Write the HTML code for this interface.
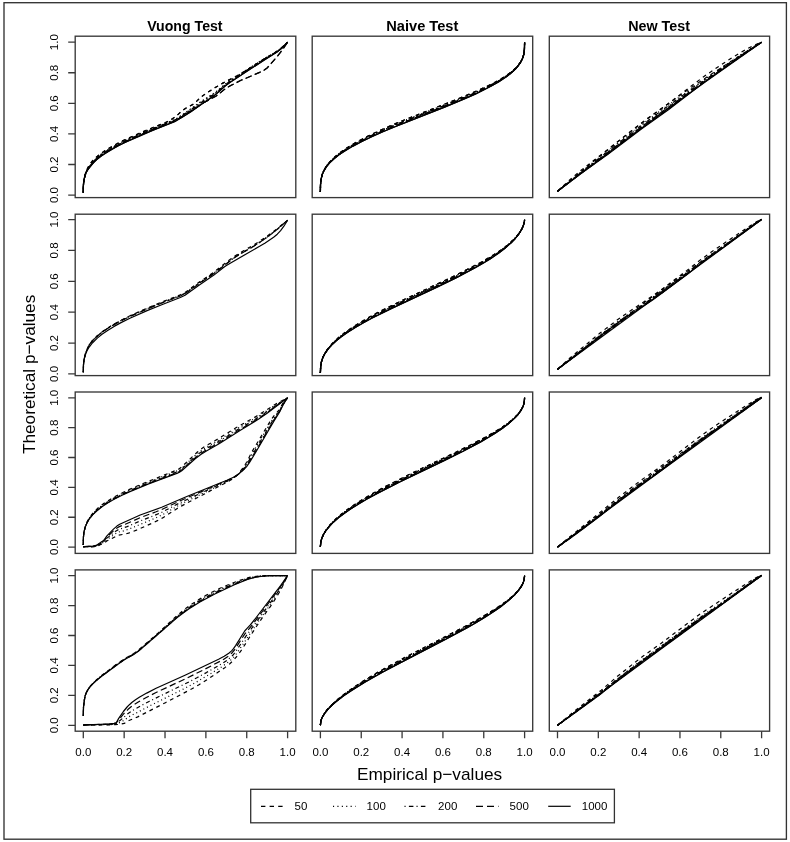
<!DOCTYPE html>
<html><head><meta charset="utf-8"><style>
html,body{margin:0;padding:0;background:#fff;}
svg{display:block;}
text{font-family:"Liberation Sans",sans-serif;fill:#000;}
svg{will-change:transform;}
</style></head><body>
<svg width="790" height="842" viewBox="0 0 790 842">
<rect x="0" y="0" width="790" height="842" fill="#fff"/>
<rect x="4.0" y="2.7" width="782.4" height="836.5" fill="none" stroke="#333" stroke-width="1.35"/>
<g fill="none" stroke="#383838" stroke-width="1.35">
<rect x="75.20" y="36.20" width="220.60" height="161.40"/>
<rect x="312.20" y="36.20" width="220.50" height="161.40"/>
<rect x="549.30" y="36.20" width="220.30" height="161.40"/>
<rect x="75.20" y="214.20" width="220.60" height="161.40"/>
<rect x="312.20" y="214.20" width="220.50" height="161.40"/>
<rect x="549.30" y="214.20" width="220.30" height="161.40"/>
<rect x="75.20" y="392.00" width="220.60" height="161.40"/>
<rect x="312.20" y="392.00" width="220.50" height="161.40"/>
<rect x="549.30" y="392.00" width="220.30" height="161.40"/>
<rect x="75.20" y="569.90" width="220.60" height="161.30"/>
<rect x="312.20" y="569.90" width="220.50" height="161.30"/>
<rect x="549.30" y="569.90" width="220.30" height="161.30"/>
</g>
<g fill="none" stroke="#383838" stroke-width="1.3">
<path d="M68.2,195.05 H75.2 M68.2,164.48 H75.2 M68.2,133.91 H75.2 M68.2,103.34 H75.2 M68.2,72.77 H75.2 M68.2,42.20 H75.2 M68.2,373.90 H75.2 M68.2,343.04 H75.2 M68.2,312.18 H75.2 M68.2,281.32 H75.2 M68.2,250.46 H75.2 M68.2,219.60 H75.2 M68.2,547.10 H75.2 M68.2,517.24 H75.2 M68.2,487.38 H75.2 M68.2,457.52 H75.2 M68.2,427.66 H75.2 M68.2,397.80 H75.2 M68.2,725.30 H75.2 M68.2,695.36 H75.2 M68.2,665.42 H75.2 M68.2,635.48 H75.2 M68.2,605.54 H75.2 M68.2,575.60 H75.2"/>
<path d="M83.30,731.2 V738.3 M124.16,731.2 V738.3 M165.02,731.2 V738.3 M205.88,731.2 V738.3 M246.74,731.2 V738.3 M287.60,731.2 V738.3 M320.40,731.2 V738.3 M361.24,731.2 V738.3 M402.08,731.2 V738.3 M442.92,731.2 V738.3 M483.76,731.2 V738.3 M524.60,731.2 V738.3 M557.50,731.2 V738.3 M598.32,731.2 V738.3 M639.14,731.2 V738.3 M679.96,731.2 V738.3 M720.78,731.2 V738.3 M761.60,731.2 V738.3"/>
</g>
<g fill="none" stroke="#000" stroke-width="1.2" stroke-linejoin="round">
<path d="M83.3,192.3L83.4,184.9L84.0,179.3L85.5,173.4L87.5,168.3L89.8,164.0L92.1,161.3L96.3,157.2L101.0,153.5L106.6,149.7L112.1,146.3L118.7,142.8L126.2,139.1L143.0,131.6L169.1,121.1L170.1,120.6L174.7,117.2L178.5,114.1L181.7,111.1L183.1,110.0L186.9,107.6L194.3,103.6L200.8,97.2L206.4,93.1L214.8,87.8L222.3,83.4L237.2,75.7L241.9,73.1L266.1,57.8L274.5,52.9L277.3,51.1L280.6,48.6L287.6,42.2" stroke-dasharray="3.8 3.9"/>
<path d="M83.3,192.3L83.4,185.5L83.9,180.3L85.2,175.0L86.9,170.7L89.0,167.0L92.6,162.2L97.3,157.5L102.0,153.7L106.7,150.5L113.2,146.7L119.7,143.2L128.1,139.0L144.9,131.6L174.7,119.7L176.5,118.8L184.1,113.6L200.8,101.7L214.8,92.8L217.6,90.6L225.1,84.2L229.8,80.8L264.3,58.6L274.5,52.8L278.3,50.5L282.9,46.7L287.6,42.2" stroke-dasharray="1 3"/>
<path d="M83.3,192.3L83.4,185.5L83.9,180.3L85.2,175.1L86.9,170.9L89.0,167.3L92.6,162.7L97.3,158.1L102.0,154.3L106.7,151.1L113.2,147.3L119.7,143.8L128.1,139.7L144.9,132.3L174.7,120.3L176.6,119.3L188.7,111.4L201.8,102.2L213.9,94.4L217.5,91.6L225.1,84.9L230.7,80.9L264.3,59.1L277.3,51.4L282.0,47.7L287.6,42.2" stroke-dasharray="1 3 4.1 2.8"/>
<path d="M83.3,192.3L83.4,185.5L83.9,180.3L85.2,175.1L86.9,170.8L89.0,167.1L92.1,163.3L96.3,159.2L101.0,155.4L106.6,151.6L113.2,147.8L119.7,144.3L128.1,140.2L146.7,132.0L175.7,120.5L203.6,102.8L215.8,96.2L218.6,94.2L224.2,89.6L230.7,85.5L241.0,80.3L259.6,72.4L264.3,70.0L267.1,68.0L277.3,56.4L282.3,50.0L287.6,42.2" stroke-dasharray="6.4 3.5"/>
<path d="M83.3,192.3L83.4,185.5L83.9,180.4L84.9,176.3L86.4,172.3L88.9,168.0L92.1,164.1L96.3,160.0L101.0,156.2L106.6,152.4L112.2,149.1L118.7,145.5L127.1,141.4L143.0,134.3L157.0,128.6L174.7,121.7L177.5,120.1L190.6,111.9L201.8,104.0L213.0,96.5L216.7,93.6L225.1,86.0L229.8,82.6L264.3,59.9L277.0,52.1L282.0,48.0L287.6,42.2"/>
<path d="M320.4,192.0L320.5,184.5L321.0,179.3L322.3,174.2L324.1,169.9L326.9,165.4L330.7,160.9L335.3,156.5L341.3,151.7L349.2,146.4L357.7,141.4L368.0,136.1L379.1,130.8L391.3,125.4L404.3,120.0L453.7,100.6L471.5,93.3L488.2,85.7L494.8,82.4L501.3,78.7L507.8,74.5L513.4,70.1L517.6,66.0L520.7,61.8L522.7,57.8L523.9,53.7L524.5,49.3L524.6,42.4" stroke-dasharray="3.8 3.9"/>
<path d="M320.4,192.0L320.5,184.5L321.0,179.3L322.3,174.3L324.0,170.2L326.9,165.6L330.7,161.2L335.3,156.8L340.9,152.4L348.4,147.4L356.8,142.5L366.5,137.4L377.3,132.3L389.4,126.9L402.5,121.5L450.9,102.4L469.6,94.7L478.9,90.6L487.3,86.6L494.5,82.9L500.4,79.6L507.1,75.3L512.5,71.2L516.5,67.4L520.1,62.9L522.2,59.1L523.2,56.6L523.8,54.4L524.4,49.8L524.6,42.4" stroke-dasharray="1 3"/>
<path d="M320.4,192.0L320.5,184.5L321.0,179.4L322.3,174.3L324.0,170.3L326.9,165.7L330.4,161.6L335.1,157.2L340.0,153.3L346.5,148.9L354.9,143.9L364.2,139.0L375.4,133.7L386.6,128.7L399.7,123.2L449.6,103.5L468.4,95.7L478.0,91.5L486.4,87.5L493.8,83.6L500.1,80.1L506.9,75.7L512.5,71.3L516.5,67.5L520.1,63.0L522.2,59.1L523.2,56.6L523.8,54.4L524.4,49.8L524.6,42.4" stroke-dasharray="1 3 4.1 2.8"/>
<path d="M320.4,192.0L320.5,185.1L320.9,180.1L322.0,175.3L323.5,171.5L326.0,167.2L329.2,163.2L333.5,158.9L339.1,154.4L345.6,149.9L354.0,144.9L363.3,140.0L373.5,135.1L384.7,130.2L397.8,124.7L447.2,105.1L466.8,97.0L476.8,92.6L485.4,88.4L492.9,84.6L499.4,80.8L506.9,76.0L512.5,71.6L516.5,67.7L520.1,63.1L522.2,59.2L523.2,56.7L523.8,54.4L524.4,49.8L524.6,42.4" stroke-dasharray="6.4 3.5"/>
<path d="M320.4,192.0L320.5,185.1L320.9,180.1L322.0,175.4L323.5,171.6L326.0,167.4L329.2,163.4L333.5,159.2L339.0,154.8L345.6,150.4L353.0,146.1L361.4,141.7L371.7,136.8L382.9,131.8L395.0,126.8L444.6,107.1L464.9,98.6L475.2,94.1L483.6,90.0L491.3,86.0L498.5,81.9L506.0,77.0L511.5,72.7L516.2,68.2L518.1,66.0L519.9,63.4L522.2,59.3L523.2,56.7L523.8,54.5L524.4,49.8L524.6,42.4"/>
<path d="M320.4,373.0L320.6,366.8L321.5,361.6L323.0,357.0L325.3,352.4L328.8,347.5L333.4,342.4L338.1,338.0L344.6,332.8L351.2,328.2L359.6,322.8L368.9,317.4L379.1,311.8L401.5,300.7L446.3,279.8L463.9,271.2L480.7,262.5L493.8,254.8L501.3,249.8L507.1,245.4L512.5,240.7L516.5,236.6L519.9,232.1L522.2,228.2L523.9,223.7L524.4,221.6L524.6,219.6" stroke-dasharray="3.8 3.9"/>
<path d="M320.4,373.0L320.6,366.8L321.3,362.3L322.6,358.1L325.1,353.0L328.0,348.6L332.5,343.5L337.2,339.1L343.7,333.8L350.2,329.2L358.6,323.9L367.0,319.0L377.3,313.5L399.7,302.3L444.4,281.3L462.1,272.7L478.9,264.0L486.4,259.7L492.9,255.7L500.4,250.8L506.9,245.8L511.5,241.8L516.2,237.0L519.9,232.2L522.2,228.2L523.9,223.7L524.4,221.6L524.6,219.6" stroke-dasharray="1 3"/>
<path d="M320.4,373.0L320.6,366.8L321.3,362.3L322.6,358.1L325.1,353.1L328.0,348.8L331.8,344.4L337.0,339.5L342.8,334.8L349.3,330.2L356.8,325.4L365.2,320.5L375.4,315.0L396.9,304.2L442.5,282.8L460.3,274.2L478.0,264.9L492.0,256.7L499.4,251.7L506.0,246.8L511.5,242.0L516.2,237.1L519.9,232.2L522.2,228.2L523.9,223.7L524.4,221.6L524.6,219.6" stroke-dasharray="1 3 4.1 2.8"/>
<path d="M320.4,373.0L320.6,367.4L321.3,362.4L322.6,358.2L324.6,353.9L327.9,349.1L331.6,344.8L336.3,340.4L341.8,335.9L348.4,331.3L355.5,326.7L364.2,321.6L373.5,316.6L395.0,305.8L439.7,284.8L458.4,275.8L476.1,266.5L483.6,262.2L491.0,257.7L498.5,252.7L505.0,247.8L510.6,243.0L515.3,238.3L519.0,233.7L521.8,229.1L522.9,226.7L523.8,224.2L524.4,221.9L524.6,219.6" stroke-dasharray="6.4 3.5"/>
<path d="M320.4,373.0L320.6,367.4L321.3,362.5L322.6,358.2L324.6,354.1L327.9,349.3L331.6,345.1L336.3,340.8L341.3,336.7L347.4,332.4L354.9,327.7L362.6,323.2L371.7,318.3L392.2,308.1L437.0,287.1L456.5,277.6L475.2,267.7L482.6,263.5L490.1,258.9L498.5,253.2L505.0,248.2L510.6,243.3L515.3,238.5L519.0,233.8L521.8,229.2L523.8,224.3L524.4,221.9L524.6,219.6"/>
<path d="M320.4,546.8L320.8,541.9L322.0,537.7L324.0,533.3L326.9,528.8L330.7,524.2L335.3,519.5L340.9,514.6L347.4,509.6L355.5,504.0L364.2,498.5L374.5,492.5L385.7,486.4L409.9,474.1L454.7,452.8L470.5,445.0L486.4,436.7L498.5,429.6L505.0,425.3L510.6,421.1L515.3,416.9L518.5,413.5L521.3,409.6L523.2,405.9L524.3,401.9L524.6,397.8" stroke-dasharray="3.8 3.9"/>
<path d="M320.4,546.8L320.7,542.4L321.7,538.5L323.5,534.3L326.1,530.0L329.7,525.4L334.4,520.6L340.0,515.7L346.5,510.6L354.0,505.4L362.6,500.0L372.6,494.1L383.8,488.0L408.0,475.7L452.8,454.3L468.7,446.5L484.5,438.2L497.6,430.6L504.1,426.2L509.7,422.0L514.3,418.0L518.5,413.6L521.3,409.7L523.2,405.9L524.3,401.9L524.6,397.8" stroke-dasharray="1 3"/>
<path d="M320.4,546.8L320.7,542.4L321.7,538.5L323.5,534.4L326.1,530.1L329.7,525.6L334.4,520.8L340.0,515.9L345.6,511.6L353.0,506.4L361.4,501.1L370.8,495.6L381.9,489.5L405.3,477.7L450.9,455.8L467.7,447.5L484.5,438.6L497.4,431.0L504.1,426.5L509.7,422.2L514.3,418.1L518.5,413.7L521.3,409.7L523.2,406.0L524.3,402.0L524.6,397.8" stroke-dasharray="1 3 4.1 2.8"/>
<path d="M320.4,546.8L320.7,542.4L321.7,538.5L323.5,534.4L326.0,530.4L329.2,526.4L333.5,521.9L339.0,517.0L344.6,512.6L352.1,507.5L360.5,502.2L369.8,496.7L380.1,491.1L403.2,479.4L448.1,457.8L465.9,449.0L482.6,440.1L490.1,435.8L496.6,431.8L503.2,427.4L509.1,422.9L514.0,418.6L518.1,414.3L521.3,409.8L523.2,406.0L524.3,402.0L524.6,397.8" stroke-dasharray="6.4 3.5"/>
<path d="M320.4,546.8L320.7,542.4L321.7,538.5L323.5,534.5L326.0,530.5L329.2,526.6L333.4,522.2L338.1,518.1L343.8,513.7L350.2,509.2L358.6,503.9L367.0,499.0L377.3,493.4L399.7,482.0L444.6,460.4L463.1,451.3L480.7,441.9L494.8,433.5L502.2,428.5L507.8,424.3L513.4,419.4L517.6,415.1L520.7,410.8L522.9,406.7L523.7,404.6L524.2,402.4L524.6,397.8"/>
<path d="M320.4,725.1L320.8,721.4L322.0,717.9L324.0,714.1L326.9,710.0L330.7,705.9L335.1,701.6L340.0,697.4L346.5,692.4L354.0,687.1L363.3,681.1L372.6,675.4L383.8,668.9L407.1,656.3L451.9,633.3L468.4,624.6L484.5,615.6L496.6,608.1L503.2,603.6L509.1,599.1L514.0,594.9L518.1,590.6L521.3,586.3L523.2,582.7L524.2,579.4L524.6,575.6" stroke-dasharray="3.8 3.9"/>
<path d="M320.4,725.1L320.7,721.7L321.7,718.5L323.5,715.0L326.1,711.2L329.7,707.0L334.4,702.4L340.0,697.7L345.6,693.4L353.0,688.2L361.4,682.7L370.8,677.0L381.9,670.6L405.3,658.0L449.1,635.4L465.9,626.5L482.6,617.1L495.7,609.1L502.6,604.3L508.7,599.6L513.4,595.5L517.6,591.3L520.7,587.2L522.9,583.4L524.2,579.4L524.6,575.6" stroke-dasharray="1 3"/>
<path d="M320.4,725.1L320.7,721.7L321.7,718.5L323.5,715.0L326.1,711.2L329.2,707.7L333.5,703.4L339.0,698.7L344.6,694.4L351.2,689.8L359.6,684.3L368.9,678.6L379.1,672.7L402.5,660.1L447.2,636.9L464.0,628.0L480.8,618.6L494.8,610.0L502.2,604.8L507.8,600.6L513.4,595.7L517.6,591.4L520.7,587.3L522.9,583.4L524.2,579.4L524.6,575.6" stroke-dasharray="1 3 4.1 2.8"/>
<path d="M320.4,725.1L320.8,721.4L321.3,719.5L322.3,717.3L324.6,713.3L328.0,709.1L332.5,704.5L338.1,699.7L344.6,694.7L352.3,689.4L367.0,680.2L385.7,669.7L404.3,659.8L449.6,636.3L470.5,625.0L479.8,619.7L488.2,614.6L495.7,609.7L502.2,605.1L507.8,600.8L512.5,596.7L516.2,593.0L519.3,589.3L521.8,585.6L523.4,582.2L524.3,579.1L524.6,575.6" stroke-dasharray="6.4 3.5"/>
<path d="M320.4,725.1L320.8,721.4L321.3,719.6L322.3,717.3L324.6,713.4L327.9,709.4L331.8,705.4L337.2,700.7L343.7,695.8L351.2,690.7L365.2,682.0L382.9,672.0L400.6,662.6L445.3,639.5L466.8,627.9L476.8,622.2L485.4,616.9L493.8,611.5L500.4,606.9L506.0,602.6L511.5,597.8L515.3,594.2L519.0,589.8L521.8,585.7L523.4,582.2L524.3,579.1L524.6,575.6"/>
<path d="M557.5,191.2L570.5,179.3L580.8,170.5L607.6,149.7L634.9,128.0L646.0,119.5L669.3,102.9L702.9,77.2L718.7,66.4L731.8,57.9L739.7,53.1L746.1,49.4L752.3,46.1L761.6,42.2" stroke-dasharray="3.8 3.9"/>
<path d="M557.5,191.2L571.5,179.8L581.7,171.8L606.9,153.2L641.4,126.5L670.3,105.9L703.8,80.2L723.4,66.4L740.2,55.0L752.3,47.4L761.6,42.2" stroke-dasharray="1 3"/>
<path d="M557.5,191.2L580.8,172.9L606.9,153.9L641.4,127.4L669.3,107.5L695.4,87.4L704.8,80.4L725.0,66.0L740.2,55.6L751.3,48.3L761.6,42.2" stroke-dasharray="1 3 4.1 2.8"/>
<path d="M557.5,191.2L580.8,173.4L607.8,154.0L640.4,129.0L669.3,108.4L695.4,88.3L705.4,80.8L741.1,55.5L751.3,48.7L761.6,42.2" stroke-dasharray="6.4 3.5"/>
<path d="M557.5,191.2L581.7,173.1L607.6,154.6L641.4,128.9L668.4,109.7L696.3,88.2L706.6,80.5L741.1,55.9L761.6,42.2"/>
<path d="M557.5,369.3L569.6,358.3L578.0,351.2L599.4,333.6L617.1,320.1L626.5,313.5L652.6,295.9L663.7,287.9L687.0,270.4L700.1,260.1L711.3,252.0L749.5,226.2L756.3,221.9L761.6,219.3" stroke-dasharray="3.8 3.9"/>
<path d="M557.5,369.3L573.3,356.3L597.6,336.9L616.2,322.8L625.4,316.4L655.4,296.3L670.3,285.5L687.0,272.8L699.2,263.2L708.5,256.3L724.3,245.3L752.3,225.2L757.1,222.0L761.6,219.3" stroke-dasharray="1 3"/>
<path d="M557.5,369.3L598.5,336.6L615.3,324.0L623.7,318.1L651.6,299.5L660.0,293.6L669.3,286.8L686.7,273.7L698.2,264.5L706.6,258.3L724.3,245.8L753.5,224.6L757.7,221.7L761.6,219.3" stroke-dasharray="1 3 4.1 2.8"/>
<path d="M557.5,369.3L599.4,336.4L615.3,324.5L625.4,317.4L652.6,299.5L661.9,292.9L686.7,274.3L698.2,265.1L704.8,260.2L725.0,245.8L756.0,223.0L761.6,219.3" stroke-dasharray="6.4 3.5"/>
<path d="M557.5,369.3L580.8,351.3L599.7,336.5L615.3,324.8L625.4,317.8L652.6,299.9L662.8,292.6L686.7,274.7L703.8,261.3L712.2,255.2L725.0,246.2L756.3,222.8L761.6,219.3"/>
<path d="M557.5,547.1L573.3,534.0L619.0,497.0L640.3,480.8L657.2,468.9L664.7,463.4L700.1,436.4L708.5,430.4L721.5,421.6L746.7,405.3L756.0,399.6L761.6,397.2" stroke-dasharray="3.8 3.9"/>
<path d="M557.5,547.1L583.5,527.5L600.4,514.3L615.3,502.2L627.4,493.0L641.4,482.5L655.8,472.6L662.8,467.5L700.1,439.1L710.3,431.8L753.2,402.1L757.1,399.6L761.6,397.2" stroke-dasharray="1 3"/>
<path d="M557.5,547.1L569.6,538.3L583.5,528.0L600.4,514.8L616.2,502.1L628.3,492.9L641.4,483.2L661.9,468.9L700.1,439.7L755.1,401.1L761.6,397.2" stroke-dasharray="1 3 4.1 2.8"/>
<path d="M557.5,547.1L568.9,539.1L580.8,530.4L599.4,516.0L614.3,504.1L623.7,497.0L640.4,484.5L661.9,469.5L700.1,440.4L738.3,413.5L755.5,400.9L761.6,397.2" stroke-dasharray="6.4 3.5"/>
<path d="M557.5,547.1L569.6,538.7L580.8,530.6L599.4,516.4L614.3,504.5L623.7,497.4L640.4,484.9L655.8,474.4L661.9,470.0L700.1,440.9L737.4,414.5L756.0,400.7L761.6,397.2"/>
<path d="M557.5,725.3L575.2,710.5L601.3,690.1L617.1,676.6L634.9,662.4L643.2,656.1L661.0,643.4L700.1,614.0L733.6,591.9L752.3,579.9L756.9,577.3L761.6,575.3" stroke-dasharray="3.8 3.9"/>
<path d="M557.5,725.3L600.4,693.0L617.1,679.1L635.8,664.4L642.3,659.6L660.9,646.4L700.1,616.9L720.6,603.2L742.0,588.3L754.6,579.3L757.7,577.4L761.6,575.3" stroke-dasharray="1 3"/>
<path d="M557.5,725.3L599.7,694.0L618.1,679.0L636.7,664.4L660.0,647.8L700.1,617.7L710.3,610.9L722.5,602.6L742.0,588.8L755.5,578.9L761.6,575.3" stroke-dasharray="1 3 4.1 2.8"/>
<path d="M557.5,725.3L599.4,694.8L617.1,680.3L634.9,666.5L642.3,661.0L660.0,648.6L700.1,618.4L710.3,611.7L723.4,602.6L742.0,589.2L756.0,578.7L761.6,575.3" stroke-dasharray="6.4 3.5"/>
<path d="M557.5,725.3L576.1,712.1L599.4,695.1L617.1,680.7L634.9,667.0L642.3,661.5L660.0,649.1L700.1,618.9L710.3,612.1L721.5,604.4L742.0,589.5L755.5,579.2L761.6,575.3"/>
<path d="M83.3,192.3L83.4,185.5L83.6,181.8L84.9,175.3L86.4,170.9L88.9,165.9L92.1,161.5L95.4,157.9L100.1,154.0L103.8,151.5L108.5,148.6L118.4,143.1L124.3,140.0L140.2,133.2L153.3,127.3L165.4,122.6L170.1,120.2L173.8,117.7L177.5,114.9L181.3,111.5L183.1,110.0L186.9,107.6L194.3,103.6L200.8,97.2L206.4,93.1L214.8,87.8L222.3,83.4L237.2,75.7L241.9,73.1L265.6,58.1L274.5,52.9L277.3,51.1L280.6,48.6L287.6,42.2" stroke-dasharray="3.8 3.9"/>
<path d="M83.3,192.9L83.4,186.1L83.6,182.4L84.9,175.4L86.1,171.6L87.5,169.3L94.5,160.2L97.3,157.4L101.0,154.3L104.2,152.1L109.4,149.0L119.7,143.3L125.3,140.4L139.3,134.4L155.1,127.4L173.8,119.9L177.5,118.0L184.1,113.7L200.8,101.7L214.8,92.8L217.6,90.6L225.1,84.2L229.8,80.8L264.3,58.6L274.5,52.8L278.3,50.5L282.3,47.2L287.6,42.2" stroke-dasharray="1 3"/>
<path d="M83.3,192.9L83.4,186.1L83.6,182.4L84.9,175.5L86.1,171.8L87.5,169.5L94.5,160.7L97.3,157.9L101.0,154.9L104.8,152.4L109.4,149.6L119.7,143.9L125.3,141.0L139.3,135.1L153.3,128.8L164.5,124.1L173.8,120.5L177.5,118.7L186.8,112.7L201.8,102.2L213.9,94.4L217.5,91.6L225.1,84.9L230.7,80.9L264.3,59.1L277.3,51.4L282.0,47.7L287.6,42.2" stroke-dasharray="1 3 4.1 2.8"/>
<path d="M83.3,192.9L83.4,186.1L83.6,182.4L84.9,175.8L86.1,172.1L88.2,168.6L93.3,162.1L96.3,159.1L100.1,156.0L104.2,153.2L109.3,150.2L119.7,144.4L125.3,141.6L139.3,135.6L154.2,128.9L165.4,124.3L173.8,121.2L176.5,119.9L182.2,116.5L203.6,102.8L215.8,96.2L218.6,94.2L224.2,89.6L230.7,85.5L241.0,80.3L259.6,72.4L264.3,70.0L267.1,68.0L277.3,56.4L282.3,50.0L287.6,42.2" stroke-dasharray="6.4 3.5"/>
<path d="M83.3,192.9L83.4,186.1L83.6,182.4L84.9,175.7L85.9,172.5L87.5,170.0L94.5,161.6L97.3,159.0L100.1,156.8L103.8,154.2L108.5,151.4L118.4,145.8L124.3,142.8L140.2,135.9L154.2,129.7L174.7,121.5L182.2,117.3L191.5,111.2L201.8,104.0L213.0,96.5L216.7,93.6L225.1,86.0L229.8,82.6L264.3,59.9L277.0,52.1L282.0,48.0L287.6,42.2"/>
<path d="M320.4,192.0L320.5,184.5L321.0,179.3L322.3,174.2L324.1,169.9L326.9,165.4L330.7,160.9L335.3,156.5L341.3,151.7L349.2,146.4L357.7,141.4L368.0,136.1L379.1,130.8L391.3,125.4L404.3,120.0L453.7,100.6L471.5,93.3L488.2,85.7L494.8,82.4L501.3,78.7L507.8,74.5L513.4,70.1L517.6,66.0L520.7,61.8L522.7,57.8L523.9,53.7L524.5,49.3L524.6,42.4" stroke-dasharray="3.8 3.9"/>
<path d="M320.4,192.0L320.5,184.5L321.0,179.3L322.3,174.3L324.0,170.2L326.9,165.6L330.7,161.2L335.3,156.8L340.9,152.4L348.4,147.4L356.8,142.5L366.5,137.4L377.3,132.3L389.4,126.9L402.5,121.5L450.9,102.4L469.6,94.7L478.9,90.6L487.3,86.6L494.5,82.9L500.4,79.6L507.1,75.3L512.5,71.2L516.5,67.4L520.1,62.9L522.2,59.1L523.2,56.6L523.8,54.4L524.4,49.8L524.6,42.4" stroke-dasharray="1 3"/>
<path d="M320.4,192.0L320.5,184.5L321.0,179.4L322.3,174.3L324.0,170.3L326.9,165.7L330.4,161.6L335.1,157.2L340.0,153.3L346.5,148.9L354.9,143.9L364.2,139.0L375.4,133.7L386.6,128.7L399.7,123.2L449.6,103.5L468.4,95.7L478.0,91.5L486.4,87.5L493.8,83.6L500.1,80.1L506.9,75.7L512.5,71.3L516.5,67.5L520.1,63.0L522.2,59.1L523.2,56.6L523.8,54.4L524.4,49.8L524.6,42.4" stroke-dasharray="1 3 4.1 2.8"/>
<path d="M320.4,192.0L320.5,185.1L320.9,180.1L322.0,175.3L323.5,171.5L326.0,167.2L329.2,163.2L333.5,158.9L339.1,154.4L345.6,149.9L354.0,144.9L363.3,140.0L373.5,135.1L384.7,130.2L397.8,124.7L447.2,105.1L466.8,97.0L476.8,92.6L485.4,88.4L492.9,84.6L499.4,80.8L506.9,76.0L512.5,71.6L516.5,67.7L520.1,63.1L522.2,59.2L523.2,56.7L523.8,54.4L524.4,49.8L524.6,42.4" stroke-dasharray="6.4 3.5"/>
<path d="M320.4,192.0L320.5,185.1L320.9,180.1L322.0,175.4L323.5,171.6L326.0,167.4L329.2,163.4L333.5,159.2L339.0,154.8L345.6,150.4L353.0,146.1L361.4,141.7L371.7,136.8L382.9,131.8L395.0,126.8L444.6,107.1L464.9,98.6L475.2,94.1L483.6,90.0L491.3,86.0L498.5,81.9L506.0,77.0L511.5,72.7L516.2,68.2L518.1,66.0L519.9,63.4L522.2,59.3L523.2,56.7L523.8,54.5L524.4,49.8L524.6,42.4"/>
<path d="M320.4,373.0L320.6,366.8L321.5,361.6L323.0,357.0L325.3,352.4L328.8,347.5L333.4,342.4L338.1,338.0L344.6,332.8L351.2,328.2L359.6,322.8L368.9,317.4L379.1,311.8L401.5,300.7L446.3,279.8L463.9,271.2L480.7,262.5L493.8,254.8L501.3,249.8L507.1,245.4L512.5,240.7L516.5,236.6L519.9,232.1L522.2,228.2L523.9,223.7L524.4,221.6L524.6,219.6" stroke-dasharray="3.8 3.9"/>
<path d="M320.4,373.0L320.6,366.8L321.3,362.3L322.6,358.1L325.1,353.0L328.0,348.6L332.5,343.5L337.2,339.1L343.7,333.8L350.2,329.2L358.6,323.9L367.0,319.0L377.3,313.5L399.7,302.3L444.4,281.3L462.1,272.7L478.9,264.0L486.4,259.7L492.9,255.7L500.4,250.8L506.9,245.8L511.5,241.8L516.2,237.0L519.9,232.2L522.2,228.2L523.9,223.7L524.4,221.6L524.6,219.6" stroke-dasharray="1 3"/>
<path d="M320.4,373.0L320.6,366.8L321.3,362.3L322.6,358.1L325.1,353.1L328.0,348.8L331.8,344.4L337.0,339.5L342.8,334.8L349.3,330.2L356.8,325.4L365.2,320.5L375.4,315.0L396.9,304.2L442.5,282.8L460.3,274.2L478.0,264.9L492.0,256.7L499.4,251.7L506.0,246.8L511.5,242.0L516.2,237.1L519.9,232.2L522.2,228.2L523.9,223.7L524.4,221.6L524.6,219.6" stroke-dasharray="1 3 4.1 2.8"/>
<path d="M320.4,373.0L320.6,367.4L321.3,362.4L322.6,358.2L324.6,353.9L327.9,349.1L331.6,344.8L336.3,340.4L341.8,335.9L348.4,331.3L355.5,326.7L364.2,321.6L373.5,316.6L395.0,305.8L439.7,284.8L458.4,275.8L476.1,266.5L483.6,262.2L491.0,257.7L498.5,252.7L505.0,247.8L510.6,243.0L515.3,238.3L519.0,233.7L521.8,229.1L522.9,226.7L523.8,224.2L524.4,221.9L524.6,219.6" stroke-dasharray="6.4 3.5"/>
<path d="M320.4,373.0L320.6,367.4L321.3,362.5L322.6,358.2L324.6,354.1L327.9,349.3L331.6,345.1L336.3,340.8L341.3,336.7L347.4,332.4L354.9,327.7L362.6,323.2L371.7,318.3L392.2,308.1L437.0,287.1L456.5,277.6L475.2,267.7L482.6,263.5L490.1,258.9L498.5,253.2L505.0,248.2L510.6,243.3L515.3,238.5L519.0,233.8L521.8,229.2L523.8,224.3L524.4,221.9L524.6,219.6"/>
<path d="M320.4,546.8L320.8,541.9L322.0,537.7L324.0,533.3L326.9,528.8L330.7,524.2L335.3,519.5L340.9,514.6L347.4,509.6L355.5,504.0L364.2,498.5L374.5,492.5L385.7,486.4L409.9,474.1L454.7,452.8L470.5,445.0L486.4,436.7L498.5,429.6L505.0,425.3L510.6,421.1L515.3,416.9L518.5,413.5L521.3,409.6L523.2,405.9L524.3,401.9L524.6,397.8" stroke-dasharray="3.8 3.9"/>
<path d="M320.4,546.8L320.7,542.4L321.7,538.5L323.5,534.3L326.1,530.0L329.7,525.4L334.4,520.6L340.0,515.7L346.5,510.6L354.0,505.4L362.6,500.0L372.6,494.1L383.8,488.0L408.0,475.7L452.8,454.3L468.7,446.5L484.5,438.2L497.6,430.6L504.1,426.2L509.7,422.0L514.3,418.0L518.5,413.6L521.3,409.7L523.2,405.9L524.3,401.9L524.6,397.8" stroke-dasharray="1 3"/>
<path d="M320.4,546.8L320.7,542.4L321.7,538.5L323.5,534.4L326.1,530.1L329.7,525.6L334.4,520.8L340.0,515.9L345.6,511.6L353.0,506.4L361.4,501.1L370.8,495.6L381.9,489.5L405.3,477.7L450.9,455.8L467.7,447.5L484.5,438.6L497.4,431.0L504.1,426.5L509.7,422.2L514.3,418.1L518.5,413.7L521.3,409.7L523.2,406.0L524.3,402.0L524.6,397.8" stroke-dasharray="1 3 4.1 2.8"/>
<path d="M320.4,546.8L320.7,542.4L321.7,538.5L323.5,534.4L326.0,530.4L329.2,526.4L333.5,521.9L339.0,517.0L344.6,512.6L352.1,507.5L360.5,502.2L369.8,496.7L380.1,491.1L403.2,479.4L448.1,457.8L465.9,449.0L482.6,440.1L490.1,435.8L496.6,431.8L503.2,427.4L509.1,422.9L514.0,418.6L518.1,414.3L521.3,409.8L523.2,406.0L524.3,402.0L524.6,397.8" stroke-dasharray="6.4 3.5"/>
<path d="M320.4,546.8L320.7,542.4L321.7,538.5L323.5,534.5L326.0,530.5L329.2,526.6L333.4,522.2L338.1,518.1L343.8,513.7L350.2,509.2L358.6,503.9L367.0,499.0L377.3,493.4L399.7,482.0L444.6,460.4L463.1,451.3L480.7,441.9L494.8,433.5L502.2,428.5L507.8,424.3L513.4,419.4L517.6,415.1L520.7,410.8L522.9,406.7L523.7,404.6L524.2,402.4L524.6,397.8"/>
<path d="M320.4,725.1L320.8,721.4L322.0,717.9L324.0,714.1L326.9,710.0L330.7,705.9L335.1,701.6L340.0,697.4L346.5,692.4L354.0,687.1L363.3,681.1L372.6,675.4L383.8,668.9L407.1,656.3L451.9,633.3L468.4,624.6L484.5,615.6L496.6,608.1L503.2,603.6L509.1,599.1L514.0,594.9L518.1,590.6L521.3,586.3L523.2,582.7L524.2,579.4L524.6,575.6" stroke-dasharray="3.8 3.9"/>
<path d="M320.4,725.1L320.7,721.7L321.7,718.5L323.5,715.0L326.1,711.2L329.7,707.0L334.4,702.4L340.0,697.7L345.6,693.4L353.0,688.2L361.4,682.7L370.8,677.0L381.9,670.6L405.3,658.0L449.1,635.4L465.9,626.5L482.6,617.1L495.7,609.1L502.6,604.3L508.7,599.6L513.4,595.5L517.6,591.3L520.7,587.2L522.9,583.4L524.2,579.4L524.6,575.6" stroke-dasharray="1 3"/>
<path d="M320.4,725.1L320.7,721.7L321.7,718.5L323.5,715.0L326.1,711.2L329.2,707.7L333.5,703.4L339.0,698.7L344.6,694.4L351.2,689.8L359.6,684.3L368.9,678.6L379.1,672.7L402.5,660.1L447.2,636.9L464.0,628.0L480.8,618.6L494.8,610.0L502.2,604.8L507.8,600.6L513.4,595.7L517.6,591.4L520.7,587.3L522.9,583.4L524.2,579.4L524.6,575.6" stroke-dasharray="1 3 4.1 2.8"/>
<path d="M320.4,725.1L320.8,721.4L321.3,719.5L322.3,717.3L324.6,713.3L328.0,709.1L332.5,704.5L338.1,699.7L344.6,694.7L352.3,689.4L367.0,680.2L385.7,669.7L404.3,659.8L449.6,636.3L470.5,625.0L479.8,619.7L488.2,614.6L495.7,609.7L502.2,605.1L507.8,600.8L512.5,596.7L516.2,593.0L519.3,589.3L521.8,585.6L523.4,582.2L524.3,579.1L524.6,575.6" stroke-dasharray="6.4 3.5"/>
<path d="M320.4,725.1L320.8,721.4L321.3,719.6L322.3,717.3L324.6,713.4L327.9,709.4L331.8,705.4L337.2,700.7L343.7,695.8L351.2,690.7L365.2,682.0L382.9,672.0L400.6,662.6L445.3,639.5L466.8,627.9L476.8,622.2L485.4,616.9L493.8,611.5L500.4,606.9L506.0,602.6L511.5,597.8L515.3,594.2L519.0,589.8L521.8,585.7L523.4,582.2L524.3,579.1L524.6,575.6"/>
<path d="M557.5,191.2L590.1,164.1L615.3,143.7L637.6,126.2L660.0,109.5L681.7,94.1L704.8,78.4L729.0,62.7L761.6,42.2" stroke-dasharray="3.8 3.9"/>
<path d="M557.5,191.2L590.1,164.8L615.3,144.9L637.6,127.7L660.0,111.0L681.7,95.5L704.8,79.6L729.0,63.4L761.6,42.2" stroke-dasharray="1 3"/>
<path d="M557.5,191.2L590.1,165.2L615.3,145.5L637.6,128.4L660.0,111.8L681.7,96.2L704.8,80.2L729.0,63.8L761.6,42.2" stroke-dasharray="1 3 4.1 2.8"/>
<path d="M557.5,191.2L615.3,146.7L637.6,129.8L660.0,113.3L681.7,97.7L704.8,81.4L761.6,42.2" stroke-dasharray="6.4 3.5"/>
<path d="M557.5,191.2L615.3,147.6L660.0,114.5L704.8,82.3L761.6,42.2"/>
<path d="M557.5,369.3L615.3,324.5L637.6,307.6L660.0,291.0L681.7,275.3L704.8,258.9L761.6,219.6" stroke-dasharray="3.8 3.9"/>
<path d="M557.5,369.3L615.3,325.1L660.0,291.8L704.8,259.5L761.6,219.6" stroke-dasharray="1 3"/>
<path d="M557.5,369.3L615.3,325.5L660.0,292.2L704.8,259.9L761.6,219.6" stroke-dasharray="1 3 4.1 2.8"/>
<path d="M557.5,369.3L615.3,325.9L660.0,292.9L704.8,260.3L761.6,219.6" stroke-dasharray="6.4 3.5"/>
<path d="M557.5,369.3L761.6,219.6"/>
<path d="M557.5,547.1L590.1,521.4L615.3,501.9L637.6,484.9L660.0,468.4L681.7,452.7L704.8,436.5L729.0,419.9L761.6,397.8" stroke-dasharray="3.8 3.9"/>
<path d="M557.5,547.1L615.3,502.7L660.0,469.4L681.7,453.7L704.8,437.3L761.6,397.8" stroke-dasharray="1 3"/>
<path d="M557.5,547.1L615.3,503.1L660.0,469.9L704.8,437.7L761.6,397.8" stroke-dasharray="1 3 4.1 2.8"/>
<path d="M557.5,547.1L615.3,503.7L660.0,470.6L704.8,438.2L761.6,397.8" stroke-dasharray="6.4 3.5"/>
<path d="M557.5,547.1L660.0,471.5L761.6,397.8"/>
<path d="M557.5,725.3L615.3,680.6L637.6,663.7L660.0,647.1L681.7,631.4L704.8,615.0L761.6,575.6" stroke-dasharray="3.8 3.9"/>
<path d="M557.5,725.3L615.3,681.3L660.0,648.0L704.8,615.7L761.6,575.6" stroke-dasharray="1 3"/>
<path d="M557.5,725.3L615.3,681.8L660.0,648.6L704.8,616.1L761.6,575.6" stroke-dasharray="1 3 4.1 2.8"/>
<path d="M557.5,725.3L615.3,682.2L660.0,649.2L704.8,616.6L761.6,575.6" stroke-dasharray="6.4 3.5"/>
<path d="M557.5,725.3L660.0,649.8L761.6,575.6"/>
<path d="M83.3,372.3L83.5,364.7L84.2,358.7L85.5,353.5L88.0,347.4L89.8,343.9L93.3,339.7L98.0,335.2L102.9,331.3L108.5,327.5L115.0,323.5L122.5,319.5L130.9,315.3L147.7,307.9L161.1,302.3L180.3,294.8L185.0,292.5L199.0,282.3L213.9,272.1L225.1,263.3L234.4,256.3L239.1,253.3L253.1,245.3L260.4,240.7L267.1,236.2L274.5,230.7L287.6,220.2" stroke-dasharray="3.8 3.9"/>
<path d="M83.3,372.3L83.5,364.7L84.2,358.7L85.5,353.5L87.5,348.3L89.8,344.0L92.6,340.5L97.3,335.9L102.0,332.1L107.6,328.2L114.1,324.3L121.5,320.2L129.9,316.1L147.7,308.3L161.1,302.8L180.3,295.4L185.0,293.1L199.0,283.0L213.9,272.9L234.4,257.2L239.1,254.2L253.1,246.2L260.4,241.6L267.1,237.0L277.3,229.1L287.6,220.2" stroke-dasharray="1 3"/>
<path d="M83.3,372.3L83.5,364.7L84.2,358.7L85.5,353.5L87.5,348.3L89.8,344.0L92.6,340.6L97.3,336.0L102.0,332.2L107.6,328.4L114.1,324.4L121.5,320.4L129.9,316.3L146.7,308.9L160.7,303.2L180.3,295.7L185.0,293.4L199.0,283.4L213.9,273.2L234.4,257.5L239.1,254.5L252.2,247.1L259.6,242.3L266.1,237.9L271.7,233.7L277.0,229.5L287.6,220.2" stroke-dasharray="1 3 4.1 2.8"/>
<path d="M83.3,372.3L83.5,364.7L84.2,358.7L85.5,353.5L87.5,348.4L89.8,344.1L92.6,340.6L97.3,336.1L102.0,332.3L107.6,328.5L114.1,324.6L121.5,320.6L129.9,316.5L146.7,309.2L160.7,303.5L180.3,296.0L185.0,293.7L199.0,283.7L213.9,273.5L234.4,257.7L239.1,254.7L252.2,247.2L259.6,242.4L266.1,237.9L271.7,233.8L277.0,229.5L287.6,220.2" stroke-dasharray="6.4 3.5"/>
<path d="M83.3,372.3L83.4,365.3L84.0,359.9L85.2,355.3L86.9,351.0L89.0,347.3L92.6,342.7L97.3,338.1L102.0,334.3L107.6,330.4L114.1,326.4L121.5,322.4L129.9,318.2L147.7,310.4L161.1,305.0L180.3,297.5L185.0,295.2L199.0,285.2L213.9,275.1L223.2,267.7L226.0,265.7L229.8,263.4L259.6,246.3L265.2,242.9L273.6,237.3L277.3,234.2L280.6,230.7L283.9,226.2L287.6,220.2"/>
<path d="M83.3,545.1L83.4,537.5L84.0,531.7L85.2,526.9L87.0,522.0L89.8,517.1L93.3,512.7L98.0,508.0L102.9,504.1L108.5,500.4L114.1,497.1L120.6,493.6L128.1,490.0L144.9,482.7L171.0,472.4L178.5,469.3L181.7,466.9L197.4,452.0L199.9,449.9L203.6,447.2L218.6,438.6L236.3,427.6L257.7,415.5L277.3,403.1L287.6,397.8" stroke-dasharray="3.8 3.9"/>
<path d="M83.3,545.1L83.4,537.5L84.0,531.8L85.2,527.0L87.0,522.2L89.8,517.5L93.3,513.1L98.0,508.6L102.9,504.7L108.5,501.0L114.1,497.8L120.6,494.3L129.0,490.3L145.8,483.1L178.5,470.3L181.7,468.1L197.1,453.7L202.7,449.5L207.4,446.6L219.5,439.7L238.2,428.0L257.7,416.8L277.3,403.8L287.6,397.8" stroke-dasharray="1 3"/>
<path d="M83.3,545.1L83.4,537.6L84.0,531.8L85.2,527.1L87.0,522.4L89.8,517.8L93.3,513.5L98.0,509.0L102.9,505.3L108.5,501.6L114.1,498.3L121.5,494.4L129.4,490.8L145.8,483.8L176.6,472.0L179.4,470.7L181.7,469.0L196.2,455.8L199.0,453.5L202.5,451.0L207.4,448.0L218.6,441.6L238.2,429.3L258.7,417.2L264.3,413.5L278.3,403.8L287.6,397.8" stroke-dasharray="1 3 4.1 2.8"/>
<path d="M83.3,545.1L83.4,537.6L84.0,531.9L85.2,527.2L86.9,522.9L89.0,519.2L92.6,514.6L97.3,510.1L102.0,506.4L107.6,502.7L114.1,498.9L121.5,495.0L129.4,491.4L146.7,484.1L177.5,472.5L179.4,471.6L181.7,469.9L196.2,457.0L201.8,452.8L206.4,449.9L219.5,442.4L239.1,430.0L258.7,418.3L265.2,413.8L287.6,397.8" stroke-dasharray="6.4 3.5"/>
<path d="M83.3,545.1L83.4,537.6L84.0,531.9L85.2,527.3L86.9,523.1L89.0,519.5L92.6,514.9L97.3,510.5L102.0,506.8L107.6,503.1L114.1,499.3L121.5,495.5L129.9,491.6L148.6,483.9L177.5,473.1L179.4,472.3L181.7,470.7L195.2,458.8L200.8,454.5L206.4,451.0L219.5,443.5L240.0,430.4L258.7,419.1L267.1,413.2L287.6,397.8"/>
<path d="M83.3,547.1L83.7,546.8L85.2,546.6L92.1,546.9L96.4,546.6L100.1,544.8L104.2,543.1L106.7,541.0L110.4,539.4L116.9,535.7L118.7,535.1L125.3,534.0L129.4,532.8L136.5,530.1L151.3,523.6L157.9,520.4L162.6,517.9L176.5,508.9L181.3,506.1L218.6,486.5L227.0,482.2L230.7,480.1L234.4,477.6L236.3,476.1L238.2,474.1L243.8,466.9L246.6,462.2L252.2,451.4L269.9,421.7L273.9,415.9L279.2,409.8L282.3,404.3L283.9,402.1L285.7,399.7L287.6,397.8" stroke-dasharray="3.8 3.9"/>
<path d="M83.3,547.1L83.7,546.8L85.2,546.6L93.3,546.6L96.3,546.2L97.3,545.8L104.2,542.1L106.7,539.6L110.4,537.3L116.9,532.8L118.7,532.0L124.3,530.7L129.4,528.9L151.4,519.8L158.9,516.5L164.5,513.6L180.3,504.4L227.0,481.6L231.6,479.1L235.4,476.7L237.2,475.1L239.8,472.5L243.7,467.8L245.6,465.0L252.2,453.4L270.8,422.1L273.9,417.4L279.2,410.7L283.1,403.7L285.6,400.1L287.6,397.8" stroke-dasharray="1 3"/>
<path d="M83.3,547.1L83.7,546.8L85.2,546.6L93.3,546.4L96.3,545.9L97.3,545.5L103.8,541.6L104.8,540.7L106.6,538.4L107.6,537.6L110.4,535.6L115.2,531.6L117.8,529.9L127.1,526.6L141.1,520.6L154.2,515.5L160.7,512.8L180.3,502.6L227.0,481.1L231.6,478.8L235.6,476.3L238.2,474.3L241.0,471.5L243.8,468.4L246.6,464.6L272.1,421.6L274.5,417.8L279.2,411.5L283.1,404.1L285.6,400.3L287.6,397.8" stroke-dasharray="1 3 4.1 2.8"/>
<path d="M83.3,547.1L83.6,546.8L84.9,546.6L92.6,546.3L96.4,545.6L102.0,542.1L103.8,540.7L104.8,539.8L106.7,537.2L113.2,531.1L116.0,528.7L118.7,526.9L125.3,524.3L141.1,517.3L156.1,511.8L161.7,509.5L183.1,499.5L227.9,480.2L233.5,477.4L237.2,475.1L239.8,473.0L243.7,469.1L245.6,466.9L247.5,464.4L255.9,450.7L273.6,420.4L279.2,412.2L282.3,405.9L283.9,403.2L285.7,400.3L287.6,397.8" stroke-dasharray="6.4 3.5"/>
<path d="M83.3,547.1L83.6,546.8L84.6,546.7L92.6,546.2L96.3,545.4L97.3,544.8L102.0,541.6L103.8,540.1L104.8,539.0L106.7,536.2L113.2,529.4L116.9,526.1L119.7,524.3L140.2,515.0L161.7,507.3L186.8,496.5L226.9,480.3L233.5,477.2L238.2,474.4L241.9,471.3L244.7,468.7L246.6,466.6L249.4,462.6L255.9,452.0L268.9,429.8L273.9,421.1L279.2,412.8L283.1,404.9L285.6,400.6L287.6,397.8"/>
<path d="M83.3,715.8L83.5,707.0L84.6,698.4L85.2,695.7L86.4,692.3L88.0,689.3L89.9,686.5L92.6,683.5L96.4,679.9L101.0,676.0L116.9,664.0L124.3,658.9L133.7,653.5L138.3,650.3L157.9,633.2L178.5,614.3L184.1,609.7L191.5,604.3L197.4,600.5L203.6,596.7L211.1,592.6L217.6,589.3L224.2,586.4L232.6,583.0L239.1,580.6L246.6,578.1L249.4,577.4L253.1,576.7L260.4,575.8L271.7,575.6L287.6,575.6" stroke-dasharray="3.8 3.9"/>
<path d="M83.3,715.8L83.5,707.0L84.6,698.5L85.2,695.7L86.4,692.4L88.0,689.4L89.9,686.7L92.6,683.6L96.4,680.1L101.0,676.2L116.9,664.3L124.3,659.2L133.7,653.8L138.3,650.6L157.0,634.4L178.5,615.0L184.1,610.5L190.6,605.8L196.2,602.2L202.7,598.2L210.2,594.1L217.5,590.3L224.2,587.3L233.5,583.4L246.6,578.6L249.4,577.8L253.1,577.0L260.5,576.0L270.8,575.6L287.6,575.6" stroke-dasharray="1 3"/>
<path d="M83.3,715.8L83.5,707.0L84.6,698.5L85.2,695.7L86.4,692.4L88.0,689.5L89.9,686.8L92.6,683.8L96.4,680.3L101.0,676.4L116.9,664.5L124.3,659.4L133.7,654.1L138.3,650.8L157.0,634.7L177.5,616.4L183.1,611.9L189.6,607.2L195.2,603.5L201.8,599.5L209.2,595.4L216.7,591.6L224.2,588.1L234.4,583.6L247.4,578.7L250.3,577.9L254.9,577.0L261.5,576.1L270.8,575.6L287.6,575.6" stroke-dasharray="1 3 4.1 2.8"/>
<path d="M83.3,715.8L83.5,707.0L84.6,698.5L85.2,695.8L86.4,692.5L88.0,689.6L89.9,686.9L92.6,683.9L96.4,680.4L101.0,676.6L116.9,664.7L124.3,659.6L133.7,654.3L138.3,651.1L156.1,635.8L177.5,616.9L182.2,613.2L188.7,608.5L194.3,604.8L200.8,600.9L208.3,596.7L215.8,592.8L223.2,589.3L234.4,584.2L247.4,579.1L250.3,578.3L255.9,577.0L263.1,576.1L270.8,575.6L287.6,575.6" stroke-dasharray="6.4 3.5"/>
<path d="M83.3,715.8L83.5,707.0L84.6,698.5L85.2,695.8L86.4,692.5L88.0,689.7L89.8,687.1L92.1,684.6L96.3,680.6L101.0,676.7L116.9,664.9L124.3,659.8L133.7,654.5L138.3,651.3L177.5,617.4L182.2,613.7L188.7,609.1L199.9,602.0L214.8,594.0L234.4,584.7L247.5,579.4L251.0,578.4L256.8,577.0L265.2,576.0L270.8,575.6L287.6,575.6"/>
<path d="M83.3,725.3L115.0,724.7L119.7,724.4L124.3,723.4L129.0,720.5L135.5,717.9L138.3,716.6L165.4,702.7L191.5,689.0L199.0,684.7L207.4,679.5L225.1,667.4L229.8,663.7L233.5,660.3L237.2,655.9L241.9,649.5L250.3,636.0L257.4,625.0L262.4,617.6L270.8,605.9L275.5,598.7L279.2,592.5L282.3,586.8L287.6,575.6" stroke-dasharray="3.8 3.9"/>
<path d="M83.3,725.2L110.4,724.6L115.2,724.3L116.9,723.9L124.3,720.2L128.1,717.3L130.9,715.6L136.5,712.9L149.5,706.0L185.0,688.2L194.3,683.3L209.2,674.6L221.4,667.0L226.0,663.8L229.8,660.9L233.5,657.4L236.3,653.9L240.0,648.7L258.7,620.9L270.1,605.0L275.5,597.1L282.3,585.9L287.6,575.6" stroke-dasharray="1 3"/>
<path d="M83.3,725.1L108.5,724.4L113.2,724.1L116.0,723.7L116.9,723.1L124.3,716.9L128.1,713.5L132.7,710.4L143.0,704.6L149.5,701.2L185.0,683.9L197.4,677.5L206.4,672.6L218.6,665.6L223.2,662.8L227.0,660.3L231.6,656.5L233.5,654.5L235.6,651.7L245.6,636.7L270.1,603.1L276.4,594.2L282.9,584.0L287.6,575.6" stroke-dasharray="1 3 4.1 2.8"/>
<path d="M83.3,724.9L109.3,724.1L114.1,723.6L116.0,723.1L116.9,722.2L123.4,714.2L128.1,709.3L131.8,706.2L138.3,702.0L145.8,697.8L155.1,693.0L185.0,679.0L203.6,669.8L220.4,661.1L224.2,658.9L227.9,656.4L231.6,653.3L234.4,650.0L244.7,634.1L253.1,623.8L276.4,592.5L282.3,584.1L287.6,575.6" stroke-dasharray="6.4 3.5"/>
<path d="M83.3,724.9L85.2,724.7L96.3,724.5L109.3,723.8L114.1,723.3L116.0,722.7L116.9,721.6L118.7,718.4L123.4,711.5L127.1,707.0L129.4,704.7L131.8,702.5L135.5,699.7L139.3,697.3L146.7,693.1L156.1,688.3L185.0,675.2L218.6,659.3L224.2,656.3L228.8,653.2L231.6,650.9L233.5,648.7L235.6,645.6L244.7,631.0L246.6,628.8L250.3,624.9L254.3,620.0L280.6,585.7L287.6,575.6"/>
</g>
<g font-size="14.4" font-weight="bold" text-anchor="middle">
<text x="184.9" y="30.7" textLength="75.4" lengthAdjust="spacingAndGlyphs">Vuong Test</text>
<text x="422.3" y="30.7" textLength="72.1" lengthAdjust="spacingAndGlyphs">Naive Test</text>
<text x="659.1" y="30.7" textLength="61.8" lengthAdjust="spacingAndGlyphs">New Test</text>
</g>
<g font-size="11.5" text-anchor="middle">
<text transform="translate(58.0,195.05) rotate(-90)">0.0</text><text transform="translate(58.0,164.48) rotate(-90)">0.2</text><text transform="translate(58.0,133.91) rotate(-90)">0.4</text><text transform="translate(58.0,103.34) rotate(-90)">0.6</text><text transform="translate(58.0,72.77) rotate(-90)">0.8</text><text transform="translate(58.0,42.20) rotate(-90)">1.0</text><text transform="translate(58.0,373.90) rotate(-90)">0.0</text><text transform="translate(58.0,343.04) rotate(-90)">0.2</text><text transform="translate(58.0,312.18) rotate(-90)">0.4</text><text transform="translate(58.0,281.32) rotate(-90)">0.6</text><text transform="translate(58.0,250.46) rotate(-90)">0.8</text><text transform="translate(58.0,219.60) rotate(-90)">1.0</text><text transform="translate(58.0,547.10) rotate(-90)">0.0</text><text transform="translate(58.0,517.24) rotate(-90)">0.2</text><text transform="translate(58.0,487.38) rotate(-90)">0.4</text><text transform="translate(58.0,457.52) rotate(-90)">0.6</text><text transform="translate(58.0,427.66) rotate(-90)">0.8</text><text transform="translate(58.0,397.80) rotate(-90)">1.0</text><text transform="translate(58.0,725.30) rotate(-90)">0.0</text><text transform="translate(58.0,695.36) rotate(-90)">0.2</text><text transform="translate(58.0,665.42) rotate(-90)">0.4</text><text transform="translate(58.0,635.48) rotate(-90)">0.6</text><text transform="translate(58.0,605.54) rotate(-90)">0.8</text><text transform="translate(58.0,575.60) rotate(-90)">1.0</text>
<text x="83.30" y="756.2">0.0</text><text x="124.16" y="756.2">0.2</text><text x="165.02" y="756.2">0.4</text><text x="205.88" y="756.2">0.6</text><text x="246.74" y="756.2">0.8</text><text x="287.60" y="756.2">1.0</text><text x="320.40" y="756.2">0.0</text><text x="361.24" y="756.2">0.2</text><text x="402.08" y="756.2">0.4</text><text x="442.92" y="756.2">0.6</text><text x="483.76" y="756.2">0.8</text><text x="524.60" y="756.2">1.0</text><text x="557.50" y="756.2">0.0</text><text x="598.32" y="756.2">0.2</text><text x="639.14" y="756.2">0.4</text><text x="679.96" y="756.2">0.6</text><text x="720.78" y="756.2">0.8</text><text x="761.60" y="756.2">1.0</text>
</g>
<text font-size="17" text-anchor="middle" textLength="159.4" lengthAdjust="spacingAndGlyphs" transform="translate(34.5,374.4) rotate(-90)">Theoretical p−values</text>
<text font-size="17" text-anchor="middle" textLength="145.2" lengthAdjust="spacingAndGlyphs" x="429.6" y="780.0">Empirical p−values</text>
<rect x="250.7" y="789.3" width="363.7" height="33.5" fill="none" stroke="#333" stroke-width="1.3"/>
<g fill="none" stroke="#000" stroke-width="1.2">
<path d="M261.0,806.3 H283.5" stroke-dasharray="4.4 4.2"/><path d="M333.0,806.3 H355.5" stroke-dasharray="1.1 3.3"/><path d="M404.5,806.3 H427.0" stroke-dasharray="1.1 3.3 4.5 3.1"/><path d="M476.0,806.3 H498.5" stroke-dasharray="7 4"/><path d="M548.2,806.3 H570.7"/>
</g>
<g font-size="11.5">
<text x="294.6" y="810.1">50</text><text x="366.6" y="810.1">100</text><text x="438.1" y="810.1">200</text><text x="509.6" y="810.1">500</text><text x="581.8" y="810.1">1000</text>
</g>
</svg>
</body></html>
